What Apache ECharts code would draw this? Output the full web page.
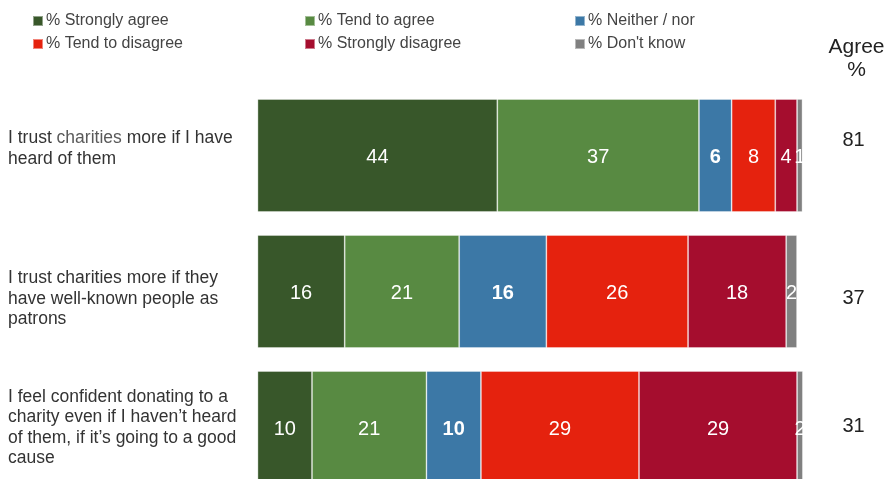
<!DOCTYPE html>
<html>
<head>
<meta charset="utf-8">
<script src="https://cdn.jsdelivr.net/npm/echarts@6/dist/echarts.min.js"></script>
<style>
  html, body { margin: 0; padding: 0; background: #fff; }
  #chart { width: 887px; height: 479px; }
</style>
</head>
<body>
<div id="chart"></div>
<script>
// Survey statements (top to bottom)
const statements = [
  'I trust charities more if I have\nheard of them',
  'I trust charities more if they\nhave well-known people as\npatrons',
  'I feel confident donating to a\ncharity even if I haven\u2019t heard\nof them, if it\u2019s going to a good\ncause'
];

// Response shares per statement, in percent
const stronglyAgree    = [44, 16, 10];
const tendToAgree      = [37, 21, 21];
const neitherNor       = [6, 16, 10];
const tendToDisagree   = [8, 26, 29];
const stronglyDisagree = [4, 18, 29];
const dontKnow         = [1, 2, 2];

// Net agreement shown in the right-hand column
const agreeTotal = [81, 37, 31];

const seriesNames = [
  '% Strongly agree', '% Tend to agree', '% Neither / nor',
  '% Tend to disagree', '% Strongly disagree', "% Don't know"
];
const seriesValues = [stronglyAgree, tendToAgree, neitherNor, tendToDisagree, stronglyDisagree, dontKnow];
const seriesColors = ['#38572a', '#588a42', '#3c78a6', '#e5220e', '#a50d2e', '#808080'];

const FONT = '"Liberation Sans", Arial, Helvetica, sans-serif';

// small vertical nudges so each label block sits where it should beside its bar
const leftPad  = [[0, 0, 14, 0], [15, 0, 0, 0], [0, 0, 0, 0]];
const rightPad = [[0, 0, 30, 0], [13, 0, 0, 0], [0, 0, 2, 0]];

const leftData = statements.map((s, i) => ({ value: s, textStyle: { padding: leftPad[i], align: 'left' } }));

const chart = echarts.init(document.getElementById('chart'), null, { renderer: 'canvas' });

const legendCommon = {
  orient: 'vertical',
  top: 13,
  padding: 0,
  itemWidth: 10,
  itemHeight: 10,
  itemGap: 7,
  icon: 'rect',
  textStyle: { fontFamily: FONT, fontSize: 16, color: '#444', padding: [0, 0, 0, -2] },
  selectedMode: false
};

const rightRich = {};
rightPad.forEach((p, i) => {
  rightRich['r' + i] = { fontFamily: FONT, fontSize: 20, color: '#222', padding: p, align: 'center' };
});

chart.setOption({
  animation: false,
  legend: [
    Object.assign({ left: 32, data: [seriesNames[0], seriesNames[3]] }, legendCommon),
    Object.assign({ left: 304, data: [seriesNames[1], seriesNames[4]] }, legendCommon),
    Object.assign({ left: 574, data: [seriesNames[2], seriesNames[5]] }, legendCommon)
  ],
  graphic: [{
    type: 'text',
    x: 856.5,
    y: 36,
    style: {
      text: 'Agree\n%',
      fill: '#222',
      font: '21px ' + FONT,
      textAlign: 'center',
      lineHeight: 23
    }
  }],
  grid: { left: 257.5, top: 87.5, width: 545, height: 408, containLabel: false, outerBoundsMode: 'none' },
  xAxis: {
    type: 'value', min: 0, max: 100,
    show: false
  },
  yAxis: [{
    type: 'category',
    inverse: true,
    data: leftData,
    axisLine: { show: false },
    axisTick: { show: false },
    axisLabel: {
      align: 'left',
      margin: 249.5,
      fontFamily: FONT,
      fontSize: 17.5,
      lineHeight: 20.5,
      color: '#333',
      formatter: function (v) {
        // "charities" in the first statement is set in a lighter grey
        if (v.indexOf('I trust charities more if I have') === 0) {
          return '{a|I trust }{b|charities}{a| more if I have}\n{a|heard of them}';
        }
        return v;
      },
      rich: {
        a: { fontFamily: FONT, fontSize: 17.5, lineHeight: 20.5, color: '#333', align: 'left' },
        b: { fontFamily: FONT, fontSize: 17.5, lineHeight: 20.5, color: '#5a5a5a', align: 'left' }
      }
    }
  }, {
    type: 'category',
    inverse: true,
    position: 'right',
    data: agreeTotal.map(String),
    axisLine: { show: false },
    axisTick: { show: false },
    axisLabel: {
      align: 'center',
      margin: 51,
      fontFamily: FONT,
      fontSize: 20,
      color: '#222',
      formatter: function (v, idx) { return '{r' + idx + '|' + v + '}'; },
      rich: rightRich
    }
  }],
  series: seriesNames.map((name, i) => ({
    name: name,
    type: 'bar',
    stack: 'total',
    yAxisIndex: 0,
    barWidth: 113,
    data: seriesValues[i],
    itemStyle: {
      color: seriesColors[i],
      borderColor: 'rgba(255,255,255,0.45)',
      borderWidth: 0.8
    },
    label: {
      show: true,
      position: 'inside',
      offset: [0, 2],
      color: '#fff',
      fontFamily: FONT,
      fontSize: 20,
      fontWeight: i === 2 ? 'bold' : 'normal'
    }
  }))
});
</script>
</body>
</html>
